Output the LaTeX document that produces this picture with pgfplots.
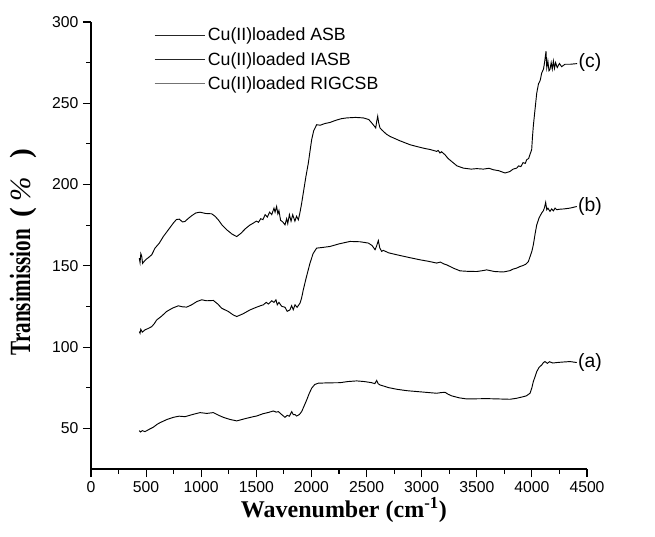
\documentclass[border=0pt]{standalone}
\usepackage{fontspec}
\setmainfont{Liberation Sans}
\newfontfamily\timesf{Liberation Serif}
\usepackage{pgfplots}
\pgfplotsset{compat=1.18}
\begin{document}
\begin{tikzpicture}
\path[use as bounding box] (-68.25pt,-50.25pt) rectangle ++(491.25pt,402pt);
\begin{axis}[
 scale only axis, width=372pt, height=335.25pt,
 xmin=0, xmax=4500, ymin=25, ymax=300,
 axis lines=left, axis line style={-, line width=0.8pt},
 x axis line style={-}, y axis line style={-},
 xtick={0,500,...,4500}, ytick={50,100,...,300},
 minor x tick num=1, minor y tick num=1,
 tick align=outside, major tick length=6pt, minor tick length=3.5pt,
 tick style={line width=0.8pt, black},
 tick label style={font=\fontsize{11.8}{13}\selectfont},
 /pgf/number format/assume math mode=true,
 /pgf/number format/1000 sep={},
 xlabel={\timesf\bfseries Wavenumber (cm\textsuperscript{-1})},
 ylabel={\timesf\bfseries \scalebox{0.72}[1]{Transimission}\hspace{9pt}(\hspace{4pt}\textmd{\textit{\%}}\hspace{14pt})},
 xlabel style={at={(axis description cs:0.51,-0.092)}, anchor=center, font=\fontsize{18}{20}\selectfont},
 ylabel style={at={(axis description cs:-0.137,0.485)}, anchor=center, font=\fontsize{22}{24}\selectfont},
 legend style={at={(axis description cs:0.127,0.993)}, anchor=north west, draw=none, fill=none,
   font=\fontsize{13.3}{15}\selectfont, row sep=3pt, inner sep=0pt},
 legend cell align=left,
 legend image code/.code={\draw[#1] (0pt,0pt) -- (37.5pt,0pt);},
 clip=false,
]
\addlegendimage{black!85, line width=0.7pt}
\addlegendentry{Cu(II)loaded ASB}
\addlegendimage{black!85, line width=0.7pt}
\addlegendentry{Cu(II)loaded IASB}
\addlegendimage{black!55, line width=0.7pt}
\addlegendentry{Cu(II)loaded RIGCSB}

% (a)
\addplot[black, line width=0.7pt, forget plot] table {
438 48.6
450 47.8
465 48.6
490 48
530 49.5
565 50.7
600 52.5
626 53.5
690 55.5
747 56.8
800 57.5
853 57.2
920 58.5
989 59.7
1050 59.2
1110 59.7
1160 58
1200 56.8
1260 55.5
1322 54.6
1400 56
1460 57
1503 57.6
1560 59
1610 59.8
1654 60.7
1680 60
1700 60.3
1730 58.5
1760 56.8
1780 58
1800 57.5
1821 60.3
1835 58.5
1850 58.5
1866 57.6
1890 58.5
1911 60.3
1935 64
1957 67.5
1980 71.5
2002 74.7
2030 77
2063 77.8
2150 78
2259 78.1
2330 78.8
2410 79.2
2480 78.8
2547 78.1
2575 77.5
2592 79.5
2605 77.5
2622 76.7
2652 76.1
2698 75.1
2780 74
2864 73.2
3000 72.4
3136 71.6
3175 72
3212 72.2
3240 71
3272 70
3340 68.8
3408 68.1
3500 68.2
3590 68.3
3700 68.1
3801 67.9
3860 68.5
3922 69.5
3950 70
3983 71.6
4000 75
4013 78.8
4030 82
4044 84.9
4065 87.5
4089 89
4105 90.5
4119 91.1
4140 90
4160 91
4190 90.2
4225 90.5
4280 90.8
4346 91.1
4407 90.5
};
% (b)
\addplot[black, line width=0.7pt, forget plot] table {
438 109.5
445 108.5
452 111
465 109.2
490 110.6
520 111.5
551 112.6
575 114.5
596 116.7
640 119
686 121.9
740 124
792 125.4
830 124.8
868 124.6
913 126
960 128
1004 129.1
1050 128.5
1110 128.7
1150 126.5
1186 123.9
1246 121.9
1290 119.8
1322 118.8
1380 120.5
1443 122.9
1500 124.5
1540 125.5
1563 126
1590 127.5
1610 126.5
1640 128.5
1660 127.5
1678 129.1
1690 126
1705 127.5
1730 125.1
1760 124.5
1780 122
1805 122.9
1820 125.5
1835 123
1851 126
1870 124.5
1896 127
1910 130
1926 135.2
1950 142
1987 151.7
2015 157.5
2047 160.9
2100 161.3
2168 161.9
2250 163.5
2350 165
2440 164.8
2516 164
2550 162.5
2577 159.9
2590 162
2607 165.5
2620 161
2637 158.9
2652 159.5
2700 158
2774 156.8
2880 155.2
2985 153.7
3060 152.8
3136 151.7
3170 152.3
3200 151.2
3227 150.6
3290 148.5
3348 146.9
3420 146.6
3499 146.5
3550 147
3590 147.5
3660 146.5
3741 146.2
3800 147
3830 148
3862 148.6
3890 149.5
3920 150.2
3945 151
3968 152.6
3985 156
4000 159
4013 162.9
4030 170
4044 175.2
4065 179.5
4089 182.5
4105 184
4115 186
4125 189
4135 184.5
4145 185.5
4164 183.5
4180 185
4195 183.8
4210 185.5
4225 184.5
4250 184.8
4290 185
4346 185.5
4407 186.5
};
% (c)
\addplot[black, line width=0.7pt, forget plot] table {
438 154.7
445 152
452 157.5
460 156
468 151.5
481 152.6
500 154
520 155
551 156.8
581 160.9
620 164
656 168
700 172
747 176.3
775 178.5
801 178.7
830 177
853 177.3
880 179
913 180.8
950 182.5
989 183
1040 182.2
1095 182
1125 180.5
1155 178.3
1190 175
1231 172.2
1280 169.5
1322 168
1360 170
1400 172.8
1440 175
1473 176.3
1500 177.5
1520 176.8
1540 179
1560 178.4
1580 181.5
1600 180
1620 183
1640 181.5
1660 185.5
1670 183
1684 186.5
1695 182
1705 184
1720 178
1740 177
1760 175.2
1775 179
1785 176
1800 181.5
1815 177.5
1830 181.4
1850 177.5
1865 180.5
1881 178.3
1895 182.5
1910 188
1926 194.8
1950 205
1972 213.3
1990 222
2002 227.6
2020 233
2047 236.8
2080 236.5
2120 237.5
2168 238.2
2220 239.5
2270 240.5
2320 241
2400 241.3
2471 241
2520 240
2547 237.9
2570 236
2583 234.8
2590 238
2601 242
2610 238
2622 234.8
2640 233.5
2680 231
2713 229.6
2800 227
2894 224.5
2950 223.5
3015 222.4
3080 221.5
3136 220.4
3150 221
3166 219.4
3180 220.2
3212 218.3
3240 216
3272 214.2
3320 211.5
3378 210.1
3450 209.5
3500 209.8
3560 209.5
3610 210
3650 209.1
3700 208.5
3756 207.1
3800 208
3830 209.5
3862 210.1
3880 211.5
3900 211
3920 213.5
3940 213
3953 215.3
3970 216
3985 219
3998 221.4
4005 229
4013 236
4025 244
4044 256.3
4060 262
4075 264
4089 268.6
4105 271
4115 275
4128 282
4135 272
4145 276
4155 270
4164 270.8
4175 275
4185 271
4195 276
4205 271.5
4215 275
4230 272
4250 274.5
4270 272.5
4300 274
4346 274
4410 274.4
};
\node[anchor=west, inner sep=1pt, font=\fontsize{14.5}{16}\selectfont] at (axis cs:4405,90.5) {(a)};
\node[anchor=west, inner sep=1pt, font=\fontsize{14.5}{16}\selectfont] at (axis cs:4405,186.5) {(b)};
\node[anchor=west, inner sep=1pt, font=\fontsize{14.5}{16}\selectfont] at (axis cs:4410,275) {(c)};
\end{axis}
\end{tikzpicture}
\end{document}
